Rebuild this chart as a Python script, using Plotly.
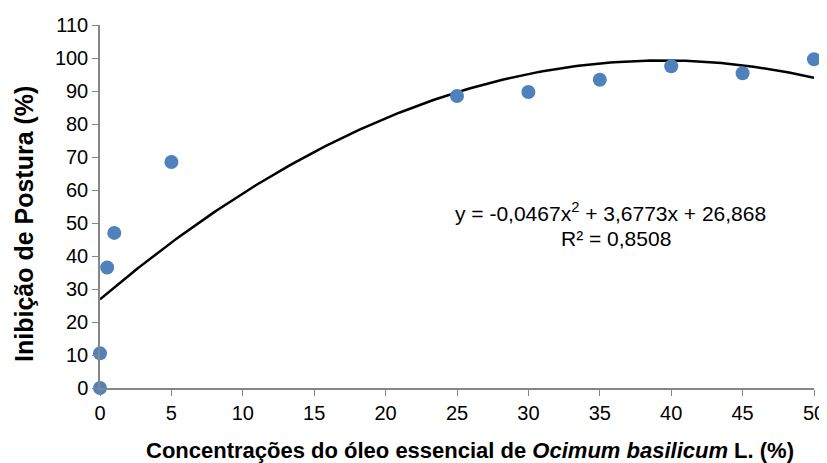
import numpy as np
import plotly.graph_objects as go

conc = [0, 0, 0.5, 1, 5, 25, 30, 35, 40, 45, 50]
inib = [0, 10.5, 36.5, 47, 68.5, 88.5, 89.7, 93.4, 97.5, 95.4, 99.6]
coef = [-0.0467, 3.6773, 26.868]  # printed trendline coefficients
x_ticks = [0, 5, 10, 15, 20, 25, 30, 35, 40, 45, 50]
y_ticks = [0, 10, 20, 30, 40, 50, 60, 70, 80, 90, 100, 110]

xf = np.linspace(0, 50, 201)
yf = np.polyval(coef, xf)

font = "Liberation Sans, Arial, sans-serif"
axcol = "#868686"
OFF = 8  # page body margin
W, H = 827 - OFF, 463 - OFF
L, T = 100 - OFF, 25 - OFF
R, B = W - (814 - OFF), H - (388 - OFF)
pw, ph = W - L - R, H - T - B


def px2paper(px, py):
    return (px - OFF - L) / pw, 1 - (py - OFF - T) / ph


fig = go.Figure()
fig.add_trace(go.Scatter(x=xf, y=yf, mode="lines",
                         line=dict(color="black", width=2.5), showlegend=False))
fig.add_trace(go.Scatter(x=conc, y=inib, mode="markers",
                         marker=dict(color="#4F81BD", size=14), showlegend=False,
                         cliponaxis=False))

fig.update_layout(
    width=W, height=H,
    margin=dict(l=L, r=R, t=T, b=B, autoexpand=False),
    paper_bgcolor="white", plot_bgcolor="white",
    font=dict(family=font, size=20, color="black"),
    xaxis=dict(range=[0, 50], tickvals=x_ticks, ticks="outside", ticklen=6,
               tickcolor=axcol, showline=True, linecolor=axcol, linewidth=1.5,
               showgrid=False, zeroline=False, tickfont=dict(size=20), automargin=False),
    yaxis=dict(range=[0, 110], tickvals=y_ticks, ticks="outside", ticklen=6,
               tickcolor=axcol, showline=True, linecolor=axcol, linewidth=1.5,
               showgrid=False, zeroline=False, tickfont=dict(size=20), automargin=False),
)

ax1, ay1 = px2paper(610, 212)
ax2, ay2 = px2paper(616, 238)
fig.add_annotation(x=ax1, y=ay1, xref="paper", yref="paper", xanchor="center", yanchor="middle",
                   text="y = -0,0467x<sup>2</sup> + 3,6773x + 26,868",
                   showarrow=False, font=dict(size=21))
fig.add_annotation(x=ax2, y=ay2, xref="paper", yref="paper", xanchor="center", yanchor="middle",
                   text="R² = 0,8508", showarrow=False, font=dict(size=21))

tx, ty = px2paper(470, 450)
fig.add_annotation(x=tx, y=ty, xref="paper", yref="paper", xanchor="center", yanchor="middle",
                   text="<b>Concentrações do óleo essencial de <i>Ocimum basilicum</i> L. (%)</b>",
                   showarrow=False, font=dict(size=22))
yx, yy = px2paper(24, 224)
fig.add_annotation(x=yx, y=yy, xref="paper", yref="paper", xanchor="center", yanchor="middle",
                   text="<b>Inibição de Postura (%)</b>", textangle=-90,
                   showarrow=False, font=dict(size=25))

fig.write_html("out.html")
